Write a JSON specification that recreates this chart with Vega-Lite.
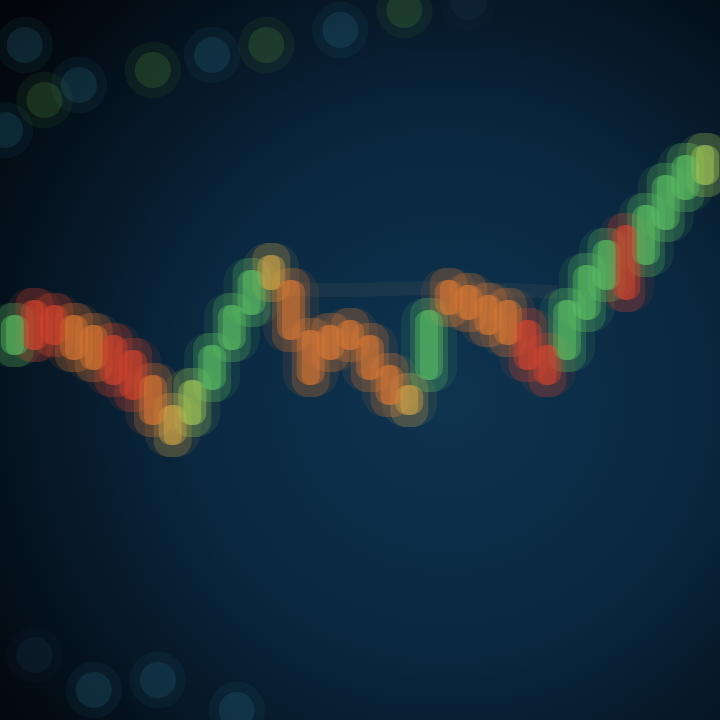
{
  "$schema": "https://vega.github.io/schema/vega-lite/v6.json",
  "width": 720,
  "height": 720,
  "autosize": {"type": "fit", "contains": "padding"},
  "padding": 0,
  "background": "#03080e",
  "config": {
    "view": {"stroke": null},
    "axis": {"domain": false, "ticks": false, "labels": false, "title": null}
  },
  "datasets": {
    "bg": [{"k": 1}],
    "candles": [
      {"day": 0, "open": 136.5, "close": 140.5, "high": 141.7, "low": 135.3, "tone": "up"},
      {"day": 1, "open": 142, "close": 137, "high": 143.2, "low": 135.8, "tone": "strong down"},
      {"day": 2, "open": 141.5, "close": 137.5, "high": 142.7, "low": 136.3, "tone": "strong down"},
      {"day": 3, "open": 140.5, "close": 136, "high": 141.7, "low": 134.8, "tone": "down"},
      {"day": 4, "open": 139.5, "close": 135, "high": 140.7, "low": 133.8, "tone": "down"},
      {"day": 5, "open": 138.5, "close": 133.5, "high": 139.7, "low": 132.3, "tone": "strong down"},
      {"day": 6, "open": 137, "close": 132, "high": 138.2, "low": 130.8, "tone": "strong down"},
      {"day": 7, "open": 134.5, "close": 129.5, "high": 135.7, "low": 128.3, "tone": "down"},
      {"day": 8, "open": 131.5, "close": 127.5, "high": 132.7, "low": 126.3, "tone": "flat"},
      {"day": 9, "open": 129.5, "close": 134, "high": 135.2, "low": 128.3, "tone": "light up"},
      {"day": 10, "open": 133, "close": 137.5, "high": 138.7, "low": 131.8, "tone": "up"},
      {"day": 11, "open": 137, "close": 141.5, "high": 142.7, "low": 135.8, "tone": "up"},
      {"day": 12, "open": 140.5, "close": 145, "high": 146.2, "low": 139.3, "tone": "up"},
      {"day": 13, "open": 146.5, "close": 143, "high": 147.7, "low": 141.8, "tone": "flat"},
      {"day": 14, "open": 144, "close": 138, "high": 145.2, "low": 136.8, "tone": "down"},
      {"day": 15, "open": 139, "close": 133.5, "high": 140.2, "low": 132.3, "tone": "down"},
      {"day": 16, "open": 136, "close": 139.5, "high": 140.7, "low": 134.8, "tone": "down"},
      {"day": 17, "open": 140, "close": 137, "high": 141.2, "low": 135.8, "tone": "down"},
      {"day": 18, "open": 138.5, "close": 134, "high": 139.7, "low": 132.8, "tone": "down"},
      {"day": 19, "open": 135.5, "close": 131.5, "high": 136.7, "low": 130.3, "tone": "down"},
      {"day": 20, "open": 133.5, "close": 130.5, "high": 134.7, "low": 129.3, "tone": "flat"},
      {"day": 21, "open": 134, "close": 141, "high": 142.2, "low": 132.8, "tone": "up"},
      {"day": 22, "open": 144, "close": 140.5, "high": 145.2, "low": 139.3, "tone": "down"},
      {"day": 23, "open": 143.5, "close": 140, "high": 144.7, "low": 138.8, "tone": "down"},
      {"day": 24, "open": 142.5, "close": 138.5, "high": 143.7, "low": 137.3, "tone": "down"},
      {"day": 25, "open": 142, "close": 137.5, "high": 143.2, "low": 136.3, "tone": "down"},
      {"day": 26, "open": 140, "close": 135, "high": 141.2, "low": 133.8, "tone": "strong down"},
      {"day": 27, "open": 137.5, "close": 133.5, "high": 138.7, "low": 132.3, "tone": "strong down"},
      {"day": 28, "open": 136, "close": 142, "high": 143.2, "low": 134.8, "tone": "up"},
      {"day": 29, "open": 140, "close": 145.5, "high": 146.7, "low": 138.8, "tone": "up"},
      {"day": 30, "open": 143, "close": 148, "high": 149.2, "low": 141.8, "tone": "up"},
      {"day": 31, "open": 149.5, "close": 142, "high": 150.7, "low": 140.8, "tone": "strong down"},
      {"day": 32, "open": 145.5, "close": 151.5, "high": 152.7, "low": 144.3, "tone": "up"},
      {"day": 33, "open": 149, "close": 154.5, "high": 155.7, "low": 147.8, "tone": "up"},
      {"day": 34, "open": 152, "close": 156.5, "high": 157.7, "low": 150.8, "tone": "up"},
      {"day": 35, "open": 153.5, "close": 157.5, "high": 158.7, "low": 152.3, "tone": "light up"}
    ],
    "ma": [
      {"day": 13.5, "price": 143.2},
      {"day": 16, "price": 143},
      {"day": 19, "price": 143.1},
      {"day": 22, "price": 143.2},
      {"day": 25, "price": 143},
      {"day": 27.5, "price": 142.8}
    ],
    "bokeh": [
      {"day": -0.5, "price": 159, "tone": "teal"},
      {"day": 0.5, "price": 167.5, "tone": "teal"},
      {"day": 1.5, "price": 162, "tone": "moss"},
      {"day": 3.25, "price": 163.5, "tone": "teal"},
      {"day": 7, "price": 165, "tone": "moss"},
      {"day": 10, "price": 166.5, "tone": "teal"},
      {"day": 12.75, "price": 167.5, "tone": "moss"},
      {"day": 16.5, "price": 169, "tone": "teal"},
      {"day": 19.75, "price": 171, "tone": "moss"},
      {"day": 23, "price": 171.8, "tone": "dim"},
      {"day": 1, "price": 106.5, "tone": "dim"},
      {"day": 4, "price": 103, "tone": "teal"},
      {"day": 7.25, "price": 104, "tone": "teal"},
      {"day": 11.25, "price": 101, "tone": "teal"}
    ]
  },
  "layer": [
    {
      "data": {"name": "bg"},
      "mark": {
        "type": "rect",
        "clip": true,
        "fill": {
          "gradient": "radial",
          "x1": 0.62, "y1": 0.55, "r1": 0,
          "x2": 0.62, "y2": 0.55, "r2": 0.78,
          "stops": [
            {"offset": 0, "color": "#0e3450"},
            {"offset": 0.45, "color": "#0a2840"},
            {"offset": 1, "color": "#02060b"}
          ]
        }
      },
      "encoding": {}
    },
    {
      "data": {"name": "candles"},
      "mark": {"type": "tick", "opacity": 0, "clip": true},
      "encoding": {
        "x": {"field": "day", "type": "quantitative", "scale": {"domain": [-0.5, 35.5], "nice": false, "zero": false},
              "axis": {"grid": true, "gridColor": "#2a5a80", "gridOpacity": 0.1, "tickCount": 36}},
        "y": {"field": "close", "type": "quantitative", "scale": {"domain": [100, 172], "nice": false, "zero": false},
              "axis": {"grid": true, "gridColor": "#2a5a80", "gridOpacity": 0.1, "tickCount": 36}},
        "color": {"field": "tone", "type": "nominal", "legend": null,
                  "scale": {"domain": ["strong down", "down", "flat", "light up", "up", "teal", "moss", "dim"],
                            "range": ["#d9442c", "#e07a32", "#d8a848", "#a6cc58", "#5ec464", "#2f7890", "#5a9a3a", "#1c3c50"]}}
      }
    },
    {
      "data": {"name": "bokeh"},
      "mark": {"type": "circle", "size": 3200, "opacity": 0.09, "stroke": null, "clip": true},
      "encoding": {
        "x": {"field": "day", "type": "quantitative"},
        "y": {"field": "price", "type": "quantitative"},
        "color": {"field": "tone", "type": "nominal", "legend": null}
      }
    },
    {
      "data": {"name": "bokeh"},
      "mark": {"type": "circle", "size": 1300, "opacity": 0.2, "stroke": null, "clip": true},
      "encoding": {
        "x": {"field": "day", "type": "quantitative"},
        "y": {"field": "price", "type": "quantitative"},
        "color": {"field": "tone", "type": "nominal", "legend": null}
      }
    },
    {
      "data": {"name": "ma"},
      "mark": {"type": "line", "color": "#a08060", "strokeWidth": 14, "opacity": 0.1, "interpolate": "monotone", "clip": true},
      "encoding": {
        "x": {"field": "day", "type": "quantitative"},
        "y": {"field": "price", "type": "quantitative"}
      }
    },
    {
      "data": {"name": "candles"},
      "mark": {"type": "bar", "width": 56, "cornerRadius": 24, "opacity": 0.1, "clip": true},
      "encoding": {
        "x": {"field": "day", "type": "quantitative"},
        "y": {"field": "high", "type": "quantitative"},
        "y2": {"field": "low"},
        "color": {"field": "tone", "type": "nominal", "legend": null}
      }
    },
    {
      "data": {"name": "candles"},
      "mark": {"type": "bar", "width": 38, "cornerRadius": 16, "opacity": 0.22, "clip": true},
      "encoding": {
        "x": {"field": "day", "type": "quantitative"},
        "y": {"field": "high", "type": "quantitative"},
        "y2": {"field": "low"},
        "color": {"field": "tone", "type": "nominal", "legend": null}
      }
    },
    {
      "data": {"name": "candles"},
      "mark": {"type": "bar", "width": 28, "cornerRadius": 12, "opacity": 0.38, "clip": true},
      "encoding": {
        "x": {"field": "day", "type": "quantitative"},
        "y": {"field": "open", "type": "quantitative"},
        "y2": {"field": "close"},
        "color": {"field": "tone", "type": "nominal", "legend": null}
      }
    },
    {
      "data": {"name": "candles"},
      "mark": {"type": "bar", "width": 18, "cornerRadius": 8, "opacity": 0.45, "clip": true},
      "encoding": {
        "x": {"field": "day", "type": "quantitative"},
        "y": {"field": "open", "type": "quantitative"},
        "y2": {"field": "close"},
        "color": {"field": "tone", "type": "nominal", "legend": null}
      }
    }
  ]
}
